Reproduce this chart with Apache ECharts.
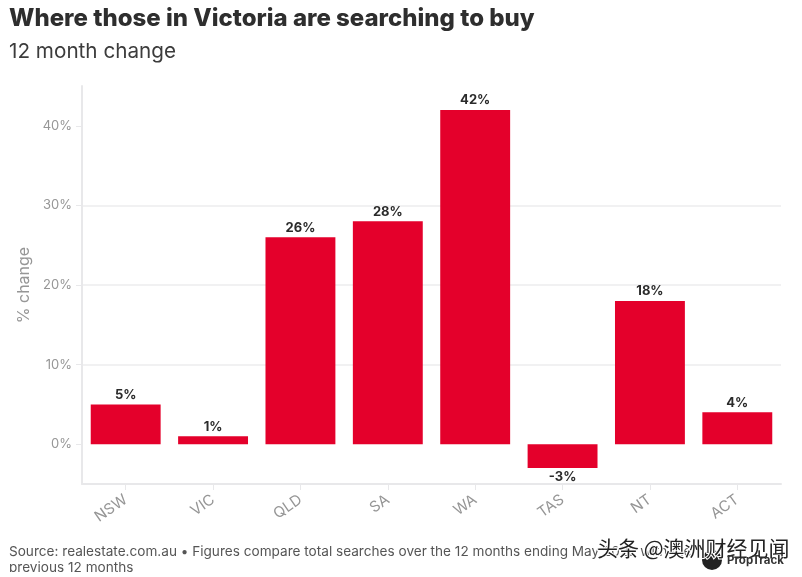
<!DOCTYPE html>
<html>

<head>
    <meta charset="utf-8" />
    <title>Where those in Victoria are searching to buy</title>
    <script src="https://cdn.jsdelivr.net/npm/echarts@6/dist/echarts.min.js"></script>
    <style>
        html, body { margin: 0; padding: 0; background: #fff; }
        #container { width: 802px; height: 577px; }
    </style>
</head>

<body>
    <div id="container"></div>
    <script type="text/javascript">
        var categories = ['NSW', 'VIC', 'QLD', 'SA', 'WA', 'TAS', 'NT', 'ACT'];
        var changeValues = [5, 1, 26, 28, 42, -3, 18, 4];
        var yTicks = [0, 10, 20, 30, 40];

        var font = 'Inter, "Open Sans", sans-serif';
        var chart = echarts.init(document.getElementById('container'));

        var option = {
            animation: false,
            backgroundColor: '#fff',
            textStyle: { fontFamily: font },
            title: [{
                text: 'Where those in Victoria are searching to buy',
                left: 9, top: 7, padding: 0,
                textStyle: { fontFamily: font, fontSize: 24, fontWeight: 800, color: '#2e2e2e' }
            }, {
                text: '12 month change',
                left: 9, top: 41, padding: 0,
                textStyle: { fontFamily: font, fontSize: 20.7, fontWeight: 400, color: '#3c3c3c' }
            }, {
                text: 'Source: realestate.com.au • Figures compare total searches over the 12 months ending May 2022 with the',
                left: 9, top: 545, padding: 0,
                textStyle: { fontFamily: font, fontSize: 13.6, fontWeight: 400, color: '#555' }
            }, {
                text: 'previous 12 months',
                left: 9, top: 561, padding: 0,
                textStyle: { fontFamily: font, fontSize: 13.6, fontWeight: 400, color: '#555' }
            }],
            grid: { left: 82, right: 21, top: 86, height: 398 },
            xAxis: {
                type: 'category',
                data: categories,
                axisLine: { onZero: false, lineStyle: { color: '#e8e8ea', width: 2 } },
                axisTick: { show: true, alignWithLabel: true, length: 6, lineStyle: { color: '#e8e8ea' } },
                axisLabel: { rotate: 35, margin: 14, fontSize: 15, color: '#969696' }
            },
            yAxis: {
                type: 'value',
                min: -5,
                max: 45,
                splitNumber: 5,
                name: '% change',
                nameLocation: 'middle',
                nameGap: 47,
                nameTextStyle: { fontSize: 16, color: '#969696' },
                axisLine: { show: true, lineStyle: { color: '#e8e8ea', width: 2 } },
                axisTick: { show: true, length: 6, customValues: yTicks, lineStyle: { color: '#e8e8ea' } },
                axisLabel: {
                    customValues: yTicks,
                    fontSize: 13,
                    margin: 10,
                    color: '#969696',
                    formatter: '{value}%'
                },
                splitLine: {
                    show: true,
                    showMinLine: false,
                    showMaxLine: false,
                    lineStyle: { color: '#ececee', width: 1.5 }
                }
            },
            series: [{
                type: 'bar',
                data: changeValues,
                barWidth: '80%',
                itemStyle: { color: '#e4002b' },
                label: {
                    show: true,
                    position: 'outside',
                    distance: 3,
                    fontSize: 13,
                    fontWeight: 700,
                    color: '#2b2b2b',
                    formatter: '{c}%'
                }
            }],
            graphic: [{
                // the source image is cut off just under the second footer line
                type: 'rect', z: 50,
                shape: { x: 0, y: 572, width: 802, height: 5 },
                style: { fill: '#fff' }
            }, {
                type: 'circle', z: 60,
                shape: { cx: 712, cy: 560, r: 10 },
                style: { fill: '#222' }
            }, {
                type: 'text', z: 63,
                x: 727, y: 555,
                style: { text: 'PropTrack', font: '700 11.5px ' + font, fill: '#333' }
            }, {
                type: 'text', z: 62,
                x: 597, y: 538,
                style: {
                    text: '头条 @澳洲财经见闻',
                    font: '21px "Noto Sans CJK SC"',
                    fill: '#222',
                    stroke: '#fff',
                    lineWidth: 2
                }
            }]
        };

        chart.setOption(option);
    </script>
</body>

</html>
